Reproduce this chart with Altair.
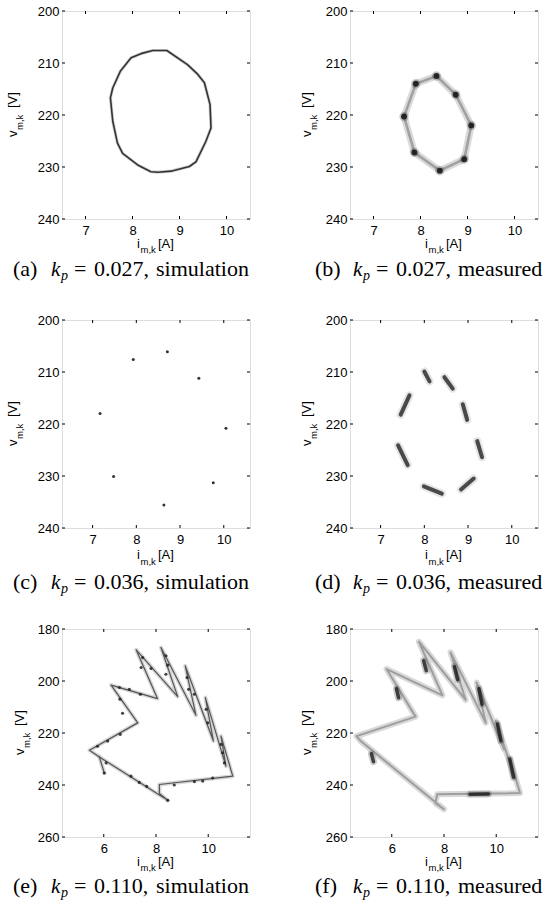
import altair as alt
import pandas as pd

# ---------------- data ----------------
A_I = [8.43, 8.73, 9.17, 9.39, 9.53, 9.65, 9.67, 9.56, 9.35, 9.21, 8.82, 8.54, 8.39, 8.11, 7.79, 7.68, 7.58, 7.53, 7.58, 7.74, 7.97, 8.18]
A_V = [207.6, 207.6, 210.3, 212.2, 213.8, 218.0, 222.5, 225.1, 229.0, 229.9, 230.8, 231.0, 230.9, 229.6, 227.4, 225.4, 221.2, 216.7, 214.8, 211.6, 209.0, 208.2]

B_I = [7.90, 8.34, 8.75, 9.08, 8.93, 8.41, 7.87, 7.65]
B_V = [214.0, 212.5, 216.1, 222.0, 228.5, 230.7, 227.2, 220.3]

C_I = [7.93, 8.71, 9.43, 10.05, 9.76, 8.63, 7.48, 7.17]
C_V = [207.6, 206.1, 211.2, 220.8, 231.3, 235.6, 230.1, 218.0]

D_I0 = [8.00, 8.46, 8.88, 9.21, 9.13, 7.99, 7.40, 7.66]
D_V0 = [209.9, 211.0, 216.2, 223.3, 230.5, 232.0, 224.1, 214.5]
D_I1 = [8.12, 8.65, 8.98, 9.32, 8.84, 8.40, 7.62, 7.46]
D_V1 = [211.8, 213.2, 219.2, 226.4, 232.6, 233.4, 227.9, 218.2]

E_I = [6.28, 8.06, 7.24, 8.83, 8.19, 9.53, 9.12, 10.20, 9.89, 10.68, 10.49, 10.94, 8.13, 8.13, 8.45, 5.83, 5.45, 7.30, 6.28]
E_V = [201.6, 206.8, 188.0, 206.0, 187.1, 213.2, 194.2, 223.1, 206.4, 232.8, 221.2, 236.6, 239.8, 243.3, 245.9, 229.2, 226.6, 216.1, 201.6]
E_TAIL_I = [5.83, 6.02]
E_TAIL_V = [229.2, 235.4]
E_DOT_I = [7.49, 7.43, 7.81, 6.60, 6.98, 7.40, 6.62, 6.72, 8.38, 8.45, 8.38, 9.19, 9.25, 9.47, 9.92, 9.98, 10.49, 10.55, 10.62, 7.04, 7.36, 7.64, 6.09, 5.76, 6.15, 6.63, 8.70, 9.47, 9.79, 10.17, 8.45, 6.02]
E_DOT_V = [191.0, 194.8, 195.2, 202.5, 203.2, 205.1, 207.0, 212.4, 190.3, 193.9, 197.4, 198.7, 203.2, 205.1, 210.9, 216.1, 224.4, 227.6, 231.5, 236.6, 239.0, 240.5, 231.5, 225.1, 223.1, 220.5, 240.0, 238.7, 238.5, 237.3, 245.9, 235.4]

F_I = [5.80, 7.94, 7.04, 8.83, 8.25, 9.60, 9.25, 10.30, 9.98, 10.74, 10.53, 10.91, 7.74, 7.67, 8.00, 4.81, 4.65, 6.91, 5.80]
F_V = [195.4, 205.5, 184.9, 207.3, 189.0, 216.1, 200.6, 226.3, 215.4, 237.9, 230.2, 243.1, 243.6, 247.0, 249.3, 223.1, 221.2, 213.7, 195.4]
F_SPOT_I0 = [7.22, 6.18, 8.40, 9.34, 10.05, 10.52, 5.22, 9.00]
F_SPOT_V0 = [192.2, 203.0, 194.5, 203.0, 216.5, 230.0, 228.0, 243.6]
F_SPOT_I1 = [7.32, 6.26, 8.52, 9.46, 10.18, 10.66, 5.30, 9.70]
F_SPOT_V1 = [196.0, 206.5, 199.5, 209.0, 223.0, 237.0, 231.0, 243.5]

XT_1 = [7, 8, 9, 10]
YT_1 = [200, 210, 220, 230, 240]
XT_3 = [6, 8, 10]
YT_3 = [180, 200, 220, 240, 260]

LETTERS = ["(a)", "(b)", "(c)", "(d)", "(e)", "(f)"]
KP = ["0.027,", "0.027,", "0.036,", "0.036,", "0.110,", "0.110,"]
KIND = ["simulation", "measured", "simulation", "measured", "simulation", "measured"]

# ---------------- layout constants ----------------
W, H = 188, 208
SANS = "Liberation Sans"
SERIF = "Liberation Serif"
ONE = pd.DataFrame({"z": [0]})


def txt(s, x, y, size, font=SANS, angle=0, style="normal"):
    return alt.Chart(ONE).mark_text(
        text=s, fontSize=size, font=font, align="left", baseline="alphabetic",
        angle=angle, fontStyle=style, color="black"
    ).encode(x=alt.value(x), y=alt.value(y))


def line_df(xs, ys, seg=0):
    return pd.DataFrame({"i": xs, "v": ys, "idx": list(range(len(xs))), "seg": [seg] * len(xs)})


def seg_df(i0, v0, i1, v1):
    rows = []
    for n in range(len(i0)):
        rows.append({"i": i0[n], "v": v0[n], "idx": 0, "seg": n})
        rows.append({"i": i1[n], "v": v1[n], "idx": 1, "seg": n})
    return pd.DataFrame(rows)


def panel(k, xdom, ydom, xticks, yticks, data_layers, ylab_x, cap_dx, cap_y, xlab_y):
    xs = alt.Scale(domain=xdom, nice=False, zero=False)
    ys = alt.Scale(domain=ydom, reverse=True, nice=False, zero=False)
    xax = alt.Axis(values=xticks, title="", ticks=False, domain=False, grid=False,
                   labelFont=SANS, labelFontSize=13, labelColor="black",
                   labelPadding=5, labelFlush=False)
    yax = alt.Axis(values=yticks, title="", ticks=False, domain=False, grid=False,
                   labelFont=SANS, labelFontSize=13, labelColor="black",
                   labelPadding=3, labelFlush=False)
    X = alt.X("i:Q", scale=xs, axis=xax)
    Y = alt.Y("v:Q", scale=ys, axis=yax)

    layers = [build(X, Y) for build in data_layers]

    xt = pd.DataFrame({"i": xticks})
    yt = pd.DataFrame({"v": yticks})
    rule = dict(color="black", strokeWidth=1)
    layers.append(alt.Chart(xt).mark_rule(**rule).encode(x=X, y=alt.value(0), y2=alt.value(3)))
    layers.append(alt.Chart(xt).mark_rule(**rule).encode(x=X, y=alt.value(H), y2=alt.value(H - 3)))
    layers.append(alt.Chart(yt).mark_rule(**rule).encode(y=Y, x=alt.value(0), x2=alt.value(3)))
    layers.append(alt.Chart(yt).mark_rule(**rule).encode(y=Y, x=alt.value(W), x2=alt.value(W - 3)))

    # axis titles with subscripts
    layers.append(txt("v", ylab_x, 126, 13, angle=270))
    layers.append(txt("m,k", ylab_x + 5.5, 119, 9.5, angle=270))
    layers.append(txt("[V]", ylab_x, 97, 13, angle=270))
    layers.append(txt("i", 75, H + xlab_y, 13))
    layers.append(txt("m,k", 78.5, H + xlab_y + 5.5, 9.5))
    layers.append(txt("[A]", 96, H + xlab_y, 13))

    # caption
    d = cap_dx
    layers.append(txt(LETTERS[k], d, cap_y, 22, font=SERIF))
    layers.append(txt("k", d + 38, cap_y, 21, font=SERIF, style="italic"))
    layers.append(txt("p", d + 48, cap_y + 4, 14, font=SERIF, style="italic"))
    layers.append(txt("=", d + 61, cap_y, 22, font=SERIF))
    layers.append(txt(KP[k], d + 81, cap_y, 22, font=SERIF))
    layers.append(txt(KIND[k], d + 143, cap_y, 22, font=SERIF))

    return alt.layer(*layers).properties(width=W, height=H)


# ---------------- panel data layers ----------------
a_df = line_df(A_I + A_I[:1], A_V + A_V[:1])
b_df = line_df(B_I + B_I[:1], B_V + B_V[:1])
b_pts = pd.DataFrame({"i": B_I, "v": B_V})
c_pts = pd.DataFrame({"i": C_I, "v": C_V})
d_df = seg_df(D_I0, D_V0, D_I1, D_V1)
e_df = pd.concat([line_df(E_I, E_V, 0), line_df(E_TAIL_I, E_TAIL_V, 1)])
e_pts = pd.DataFrame({"i": E_DOT_I, "v": E_DOT_V})
f_df = line_df(F_I, F_V, 0)
f_spots = seg_df(F_SPOT_I0, F_SPOT_V0, F_SPOT_I1, F_SPOT_V1)


def path(df, width, color, opacity=1.0):
    return lambda X, Y: alt.Chart(df).mark_line(
        strokeWidth=width, color=color, opacity=opacity, strokeCap="round", strokeJoin="round"
    ).encode(x=X, y=Y, order="idx:Q", detail="seg:N")


def dots(df, size, color, opacity=1.0):
    return lambda X, Y: alt.Chart(df).mark_circle(size=size, color=color, opacity=opacity).encode(x=X, y=Y)


DOM1 = [6.5, 10.5]
DOM2 = [6.3, 10.6]
DOM3 = [4.4, 11.6]

pa = panel(0, DOM1, [200, 240], XT_1, YT_1,
           [path(a_df, 3.2, "#999", 0.45), path(a_df, 1.6, "#333")], -45, -49, 265, 28.5)
pb = panel(1, DOM1, [200, 240], XT_1, YT_1,
           [path(b_df, 7, "#bbb", 0.55), path(b_df, 2.5, "#888", 0.7),
            dots(b_pts, 90, "#333", 0.25), dots(b_pts, 35, "#111", 0.85)], -39, -35, 265, 28.5)
pc = panel(2, DOM2, [200, 240], XT_1, YT_1,
           [dots(c_pts, 9, "#333")], -45, -49, 269, 31)
pdd = panel(3, DOM2, [200, 240], XT_1, YT_1,
            [path(d_df, 8, "#aaa", 0.3), path(d_df, 4, "#222", 0.8)], -39, -35, 269, 31)
pe = panel(4, DOM3, [180, 260], XT_3, YT_3,
           [path(e_df, 4, "#bbb", 0.6), path(e_df, 1.2, "#555"),
            dots(e_pts, 10, "#222", 0.85)], -37.7, -49, 264, 28.5)
pf = panel(5, DOM3, [180, 260], XT_3, YT_3,
           [path(f_df, 6, "#aaa", 0.45), path(f_df, 2, "#777", 0.6),
            path(f_spots, 7, "#333", 0.25), path(f_spots, 3.5, "#111", 0.75)], -39, -35, 264, 28.5)

chart = alt.concat(pa, pb, pc, pdd, pe, pf, columns=2,
                   spacing={"row": 101, "column": 100}, bounds="flush").properties(
    padding={"left": 6, "top": 4, "right": 0, "bottom": 0}
).configure_view(stroke="black", strokeWidth=1).configure(background="white")

chart.save("out.html", embed_options={"renderer": "svg", "actions": False})
